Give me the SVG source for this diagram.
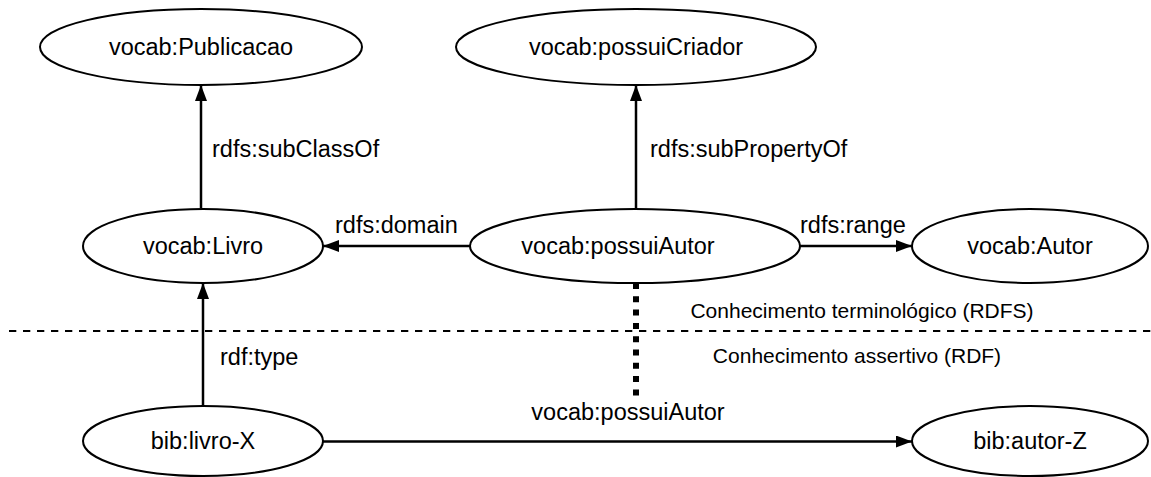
<svg xmlns="http://www.w3.org/2000/svg" width="1151" height="477" viewBox="0 0 1151 477">
<defs>
<marker id="arr" viewBox="0 0 16 12" refX="16" refY="6" markerWidth="16" markerHeight="12" markerUnits="userSpaceOnUse" orient="auto">
<path d="M0,0 L16,6 L0,12 Z" fill="#000"/>
</marker>
<style>
.node ellipse{fill:#fff;stroke:#000;stroke-width:2}
.node text, .lbl{font-family:"Liberation Sans",Arial,sans-serif;font-size:23.5px;fill:#000}
.node text{text-anchor:middle;dominant-baseline:central}
.sep{font-size:21px}
.edge{stroke:#000;stroke-width:2.5;fill:none}
</style>
</defs>
<rect width="1151" height="477" fill="#fff"/>
<g id="separator">
<line x1="9" y1="331" x2="1151" y2="331" stroke="#000" stroke-width="2" stroke-dasharray="7.3,6.7"/>
<text class="lbl sep" x="862" y="318" text-anchor="middle">Conhecimento terminológico (RDFS)</text>
<text class="lbl sep" x="857" y="363" text-anchor="middle">Conhecimento assertivo (RDF)</text>
</g>
<g id="connectors">
<line class="edge" x1="201" y1="208" x2="201" y2="85" marker-end="url(#arr)"/>
<line class="edge" x1="636" y1="209" x2="636" y2="85" marker-end="url(#arr)"/>
<line class="edge" x1="470" y1="246" x2="323" y2="246" marker-end="url(#arr)"/>
<line class="edge" x1="800" y1="246" x2="912" y2="246" marker-end="url(#arr)"/>
<line class="edge" x1="203" y1="406" x2="203" y2="283" marker-end="url(#arr)"/>
<line class="edge" x1="323" y1="441.5" x2="912" y2="441.5" marker-end="url(#arr)"/>
<line x1="636" y1="283" x2="636" y2="396" stroke="#000" stroke-width="6" stroke-dasharray="6,7.3"/>
<text class="lbl" x="212" y="157">rdfs:subClassOf</text>
<text class="lbl" x="650" y="157">rdfs:subPropertyOf</text>
<text class="lbl" x="335" y="233">rdfs:domain</text>
<text class="lbl" x="800" y="233">rdfs:range</text>
<text class="lbl" x="220" y="365">rdf:type</text>
<text class="lbl" x="628" y="420" text-anchor="middle">vocab:possuiAutor</text>
</g>
<g id="n-publicacao" class="node"><ellipse cx="201" cy="47" rx="161" ry="38"/><text x="201" y="47">vocab:Publicacao</text></g>
<g id="n-possuiCriador" class="node"><ellipse cx="636" cy="47" rx="180" ry="38"/><text x="636" y="47">vocab:possuiCriador</text></g>
<g id="n-livro" class="node"><ellipse cx="203" cy="246" rx="120" ry="37"/><text x="203" y="246">vocab:Livro</text></g>
<g id="n-possuiAutor" class="node"><ellipse cx="635" cy="246" rx="165" ry="37"/><text x="618" y="246">vocab:possuiAutor</text></g>
<g id="n-autor" class="node"><ellipse cx="1030" cy="246" rx="118" ry="37"/><text x="1030" y="246">vocab:Autor</text></g>
<g id="n-livroX" class="node"><ellipse cx="203" cy="441" rx="120" ry="35"/><text x="203" y="441">bib:livro-X</text></g>
<g id="n-autorZ" class="node"><ellipse cx="1030" cy="441" rx="118" ry="35"/><text x="1030" y="441">bib:autor-Z</text></g>
</svg>
